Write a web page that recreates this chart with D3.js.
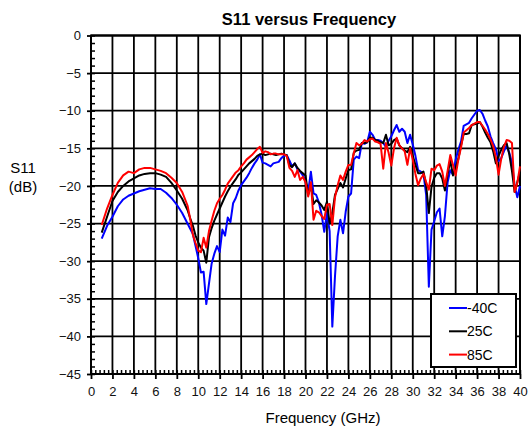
<!DOCTYPE html>
<html>
<head>
<meta charset="utf-8">
<script src="https://cdn.jsdelivr.net/npm/d3@7"></script>
<style>
  body { margin: 0; background: #fff; }
  svg { display: block; font-family: "Liberation Sans", Arial, sans-serif; }
</style>
</head>
<body>
<svg width="528" height="428"></svg>
<script>
// frequency points (GHz): 0.5 GHz steps up to 9, then 0.25 GHz steps
var freqLow = [1, 1.5, 2, 2.5, 3, 3.5, 4, 4.5, 5, 5.5, 6, 6.5, 7, 7.5, 8, 8.5, 9];
var freq = freqLow.concat(d3.range(9.25, 40.001, 0.25));

// S11 (dB)
var s11Minus40 = [
  -27.0, -25.3, -24.1, -22.7, -21.8, -21.3, -21.0, -20.7, -20.5, -20.3, -20.4, -20.4, -20.9, -21.6, -22.5, -23.6, -25.0,
  -25.7, -26.4, -28.0, -29.6, -31.5, -31.4, -35.7, -33.0, -30.3, -29.0, -28.0, -28.8, -25.8, -26.6, -24.2, -24.8,
  -22.3, -21.6, -20.6, -19.9, -19.4, -18.9, -18.3, -17.6, -17.0, -16.5, -15.8, -16.9, -17.0, -17.2, -17.4, -17.0,
  -16.9, -16.8, -16.3, -16.0, -15.9, -16.6, -17.4, -17.0, -17.8, -18.1, -18.6, -19.4, -20.8, -18.1, -21.0, -21.2,
  -22.2, -23.8, -26.1, -23.6, -26.0, -38.7, -32.0, -26.7, -24.5, -26.3, -23.4, -21.4, -21.0, -16.5, -16.1, -16.3,
  -14.3, -14.4, -14.2, -12.8, -13.2, -13.9, -13.9, -14.0, -14.3, -14.8, -14.0, -13.4, -12.6, -11.9, -12.8, -12.4,
  -12.8, -14.3, -13.2, -14.5, -16.0, -17.9, -18.1, -18.4, -21.2, -33.4, -25.8, -24.7, -23.5, -23.0, -26.7, -24.0,
  -19.5, -17.9, -18.5, -16.5, -15.2, -14.1, -12.0, -11.8, -11.6, -11.0, -10.5, -10.0, -9.9, -10.4, -11.3, -12.1,
  -13.4, -14.3, -15.1, -16.7, -16.3, -15.4, -14.6, -15.6, -16.9, -20.0, -21.5, -20.0
];
var s11At25 = [
  -26.2, -24.1, -22.0, -20.8, -20.0, -19.4, -19.0, -18.6, -18.4, -18.3, -18.3, -18.5, -18.8, -19.6, -20.6, -21.7, -23.2,
  -24.3, -25.3, -26.6, -27.5, -28.2, -28.6, -30.2, -26.8, -25.6, -24.6, -23.8, -23.0, -22.2, -21.4, -20.7, -20.1,
  -19.6, -19.1, -18.5, -18.2, -17.8, -17.4, -17.0, -16.7, -16.4, -16.0, -15.8, -15.7, -15.9, -15.8, -15.7, -15.8,
  -15.9, -15.8, -15.7, -15.8, -15.9, -17.2, -17.5, -17.0, -17.6, -18.0, -18.3, -18.6, -21.2, -19.9, -22.4, -21.9,
  -22.2, -22.6, -23.2, -22.1, -25.0, -23.6, -21.2, -20.4, -19.6, -20.2, -19.0, -17.9, -17.8, -15.6, -15.3, -15.2,
  -14.3, -14.3, -14.2, -13.6, -13.6, -13.9, -14.0, -14.2, -14.3, -13.2, -14.6, -14.4, -13.9, -13.7, -14.6, -15.0,
  -15.3, -15.5, -14.8, -16.0, -17.2, -18.3, -18.3, -18.1, -19.9, -23.6, -20.1, -18.9, -18.3, -18.3, -19.0, -20.6,
  -18.5, -16.6, -18.6, -17.6, -16.4, -14.6, -13.1, -13.1, -13.0, -11.9, -11.8, -11.7, -11.5, -12.1, -12.9, -13.6,
  -14.2, -15.4, -17.0, -16.0, -15.2, -14.6, -14.3, -15.8, -18.0, -20.8, -19.5, -18.1
];
var s11At85 = [
  -25.2, -23.0, -21.2, -19.6, -18.6, -18.1, -18.3, -17.8, -17.6, -17.6, -17.8, -18.0, -18.3, -18.9, -19.6, -20.8, -22.6,
  -24.4, -26.5, -27.6, -28.6, -28.8, -26.9, -28.2, -26.0, -24.6, -23.3, -22.3, -21.7, -21.2, -20.5, -19.7, -19.2,
  -18.7, -18.2, -17.9, -17.4, -17.0, -16.5, -16.2, -15.9, -15.5, -15.1, -14.8, -15.6, -15.4, -15.5, -15.8, -15.7,
  -15.7, -15.8, -15.8, -15.8, -16.0, -17.6, -18.0, -18.8, -17.9, -19.2, -18.8, -19.5, -21.4, -19.5, -24.5, -23.3,
  -23.5, -24.0, -24.4, -22.5, -22.4, -25.2, -21.5, -19.9, -18.6, -19.2, -18.1, -17.2, -17.2, -15.7, -14.3, -14.6,
  -14.4, -13.9, -14.1, -13.8, -13.7, -14.1, -14.2, -14.4, -17.7, -14.3, -15.6, -17.3, -15.0, -13.6, -14.6, -15.0,
  -15.4, -17.2, -15.0, -16.5, -18.4, -19.9, -19.0, -18.4, -19.5, -20.5, -17.7, -17.9, -17.3, -17.1, -18.1, -20.0,
  -18.0, -15.9, -17.2, -18.6, -16.5, -14.9, -12.9, -12.6, -12.3, -11.9, -11.7, -11.5, -11.5, -12.0, -12.5, -13.1,
  -13.8, -14.7, -16.2, -18.5, -16.4, -14.8, -13.9, -14.0, -14.3, -20.8, -19.6, -17.4
];

var seriesNames = ["-40C", "25C", "85C"];
var seriesColors = ["#0000ff", "#000000", "#ff0000"];
var seriesValues = [s11Minus40, s11At25, s11At85];

var xTicks = d3.range(0, 40.001, 2);
var yTicks = d3.range(-45, 0.001, 5);

var svg = d3.select("svg");

var x = d3.scaleLinear().domain([0, 40]).range([91, 520]);
var y = d3.scaleLinear().domain([-45, 0]).range([374, 35.5]);

// grid lines
var grid = svg.append("g").attr("stroke", "#000").attr("stroke-width", 1.8);
grid.selectAll("line.v").data(xTicks).enter().append("line")
  .attr("x1", function(d) { return x(d); }).attr("x2", function(d) { return x(d); })
  .attr("y1", y(0)).attr("y2", y(-45));
grid.selectAll("line.h").data(yTicks).enter().append("line")
  .attr("x1", x(0)).attr("x2", x(40))
  .attr("y1", function(d) { return y(d); }).attr("y2", function(d) { return y(d); });

// minor ticks inside the frame
var minorY = svg.append("g").attr("transform", "translate(" + x(0) + ",0)")
  .call(d3.axisRight(y).tickValues(d3.range(-45, 0.001, 1)).tickSize(4).tickFormat(""));
var minorX = svg.append("g").attr("transform", "translate(0," + y(-45) + ")")
  .call(d3.axisTop(x).tickValues(d3.range(0, 40.001, 0.4)).tickSize(4).tickFormat(""));
[minorY, minorX].forEach(function(g) {
  g.select(".domain").remove();
  g.selectAll("line").attr("stroke", "#000").attr("stroke-width", 1.5);
});

// major ticks + labels
var yAxis = svg.append("g").attr("transform", "translate(" + x(0) + ",0)")
  .call(d3.axisLeft(y).tickValues(yTicks).tickSize(4).tickPadding(6).tickFormat(d3.format("d")));
var xAxis = svg.append("g").attr("transform", "translate(0," + y(-45) + ")")
  .call(d3.axisBottom(x).tickValues(xTicks).tickSize(5).tickPadding(8).tickFormat(d3.format("d")));
[yAxis, xAxis].forEach(function(g) {
  g.select(".domain").remove();
  g.selectAll("line").attr("stroke", "#000").attr("stroke-width", 1.8);
  g.selectAll("text").attr("font-size", 13).attr("fill", "#111")
    .attr("font-family", "'Liberation Sans', Arial, sans-serif");
});

// frame
svg.append("rect")
  .attr("x", x(0)).attr("y", y(0))
  .attr("width", x(40) - x(0)).attr("height", y(-45) - y(0))
  .attr("fill", "none").attr("stroke", "#000").attr("stroke-width", 2);

// series
var line = d3.line()
  .x(function(d, i) { return x(freq[i]); })
  .y(function(d) { return y(d); });

seriesValues.forEach(function(vals, k) {
  svg.append("path")
    .attr("d", line(vals))
    .attr("fill", "none")
    .attr("stroke", seriesColors[k])
    .attr("stroke-width", 2)
    .attr("stroke-linejoin", "round");
});

// titles
svg.append("text").attr("x", 309).attr("y", 25).attr("text-anchor", "middle")
  .attr("font-size", 16.5).attr("font-weight", "bold").text("S11 versus Frequency");
svg.append("text").attr("x", 323).attr("y", 423).attr("text-anchor", "middle")
  .attr("font-size", 15).text("Frequency (GHz)");
svg.append("text").attr("x", 23).attr("y", 173).attr("text-anchor", "middle")
  .attr("font-size", 15).text("S11");
svg.append("text").attr("x", 23).attr("y", 192).attr("text-anchor", "middle")
  .attr("font-size", 15).text("(dB)");

// legend
var legend = svg.append("g").attr("transform", "translate(431,294)");
legend.append("rect").attr("width", 85).attr("height", 73)
  .attr("fill", "#fff").attr("stroke", "#000").attr("stroke-width", 2);
seriesNames.forEach(function(name, k) {
  var ly = 14 + k * 23.3;
  legend.append("line").attr("x1", 18).attr("x2", 36).attr("y1", ly).attr("y2", ly)
    .attr("stroke", seriesColors[k]).attr("stroke-width", 2);
  legend.append("text").attr("x", 36).attr("y", ly + 5).attr("font-size", 14).text(name);
});
</script>
</body>
</html>
